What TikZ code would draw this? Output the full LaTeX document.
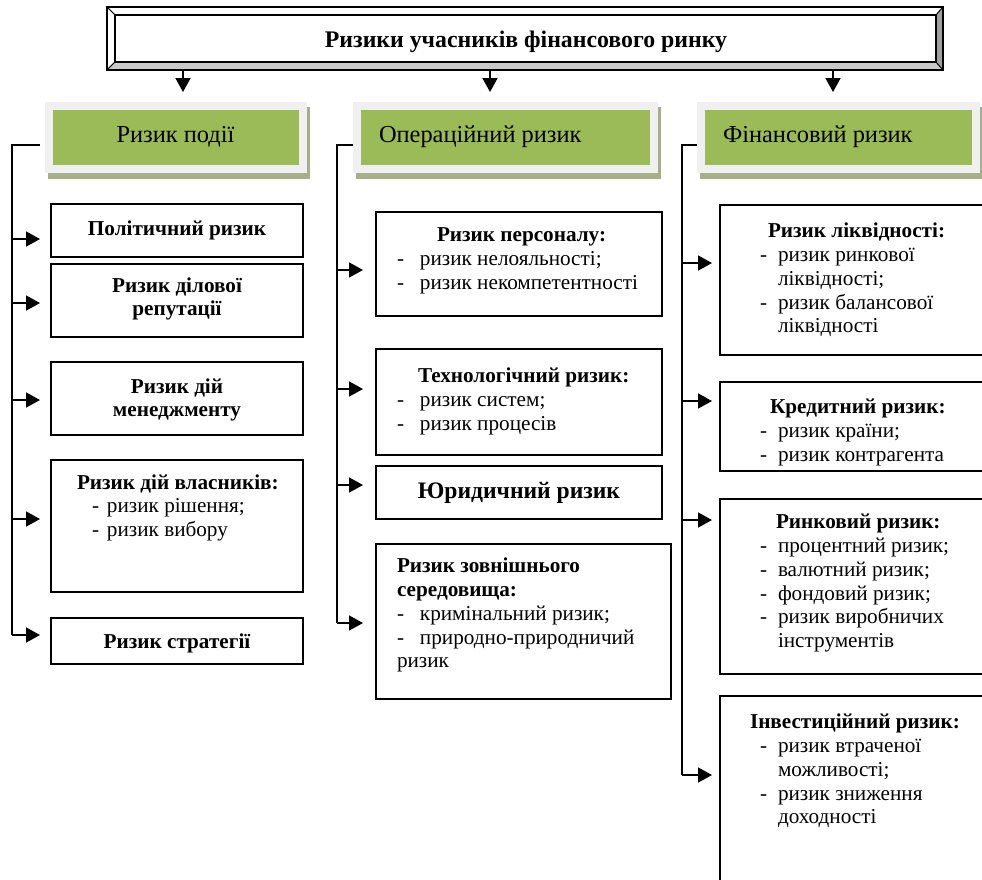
\documentclass[tikz,border=0pt]{standalone}
\usepackage{fontspec}
\setmainfont{Liberation Serif}
\usetikzlibrary{arrows.meta,backgrounds}
\definecolor{boxgreen}{RGB}{155,187,89}
\definecolor{framegray}{RGB}{240,240,240}
\definecolor{shadowgreen}{RGB}{166,174,140}
\definecolor{bevbot}{RGB}{200,200,200}
\definecolor{bevright}{RGB}{160,160,160}
\newcommand\bodyfont{\fontsize{21.2}{23.8}\selectfont}
\newcommand\greenfont{\fontsize{24.4}{28}\selectfont}
\newcommand\titlefont{\fontsize{23.8}{27}\selectfont\bfseries}
\newcommand\jurfont{\fontsize{23.6}{27}\selectfont\bfseries}
\newcommand\dsh[1]{\makebox[#1][l]{-}}
\tikzset{
  conn/.style={line width=1.7pt},
  arr/.style={line width=1.7pt,-{Triangle[length=14pt,width=15pt]}},
  box/.style={draw,line width=1.6pt,inner sep=0pt,outer sep=0pt,anchor=north west},
  gbox/.style={draw=framegray,fill=boxgreen,line width=8pt,inner sep=0pt,outer sep=0pt,minimum height=62.5pt},
  txt/.style={inner sep=0pt,outer sep=0pt,font=\bodyfont,align=left,anchor=north west},
  btxt/.style={inner sep=0pt,outer sep=0pt,font=\bodyfont\bfseries},
  gtxt/.style={inner sep=0pt,outer sep=0pt,font=\greenfont},
}
\begin{document}
\begin{tikzpicture}[x=1pt,y=1pt]
\useasboundingbox (0,0) rectangle (982,-879);
\clip (0,0) rectangle (982,-879);

% title
\node[draw,line width=1.2pt,inner sep=0pt,outer sep=0pt,minimum width=821pt,minimum height=47pt,anchor=north west] (title) at (115,-15) {};
\coordinate (onw) at ([shift={(-8,8)}]title.north west);
\coordinate (one) at ([shift={(7,8)}]title.north east);
\coordinate (ose) at ([shift={(7,-8)}]title.south east);
\coordinate (osw) at ([shift={(-8,-8)}]title.south west);
\filldraw[fill=white,line width=0.8pt] (onw) -- (one) -- (title.north east) -- (title.north west) -- cycle;
\filldraw[fill=white,line width=0.8pt] (onw) -- (title.north west) -- (title.south west) -- (osw) -- cycle;
\filldraw[fill=bevbot,line width=0.8pt] (osw) -- (title.south west) -- (title.south east) -- (ose) -- cycle;
\filldraw[fill=bevright,line width=0.8pt] (one) -- (ose) -- (title.south east) -- (title.north east) -- cycle;
\draw[line width=2pt] (onw) rectangle (ose);
\draw[line width=1.2pt] (title.north west) rectangle (title.south east);
\node[inner sep=0pt,font=\titlefont,anchor=base] (ttitle) at (526,-47) {Ризики учасників фінансового ринку};

% green headers
\node[gbox,minimum width=254pt] (g1) at (176,-137.25) {};
\node[gbox,minimum width=297.5pt] (g2) at (505.25,-137.25) {};
\node[gbox,minimum width=275pt] (g3) at (838.5,-137.25) {};
\begin{pgfonlayer}{background}
\fill[shadowgreen] ([shift={(-1,-10.5)}]g1.south west) rectangle ([shift={(7,-1)}]g1.north east);
\fill[shadowgreen] ([shift={(-1,-10.5)}]g2.south west) rectangle ([shift={(7,-1)}]g2.north east);
\fill[shadowgreen] ([shift={(-1,-10.5)}]g3.south west) rectangle ([shift={(7,-1)}]g3.north east);
\end{pgfonlayer}
\node[gtxt,anchor=base] (gt1) at (175.5,-142) {Ризик події};
\node[gtxt,anchor=base west] (gt2) at (379,-142) {Операційний ризик};
\node[gtxt,anchor=base west] (gt3) at (723,-142) {Фінансовий ризик};

% arrows from title
\coordinate (tA) at (183,-70);
\coordinate (tB) at (490,-70);
\coordinate (tC) at (833,-70);
\draw[arr,shorten >=14pt] (tA) -- (tA |- g1.north);
\draw[arr,shorten >=14pt] (tB) -- (tB |- g2.north);
\draw[arr,shorten >=14pt] (tC) -- (tC |- g3.north);

% column 1 boxes
\node[box,minimum width=252pt,minimum height=53pt] (bpol) at (51,-204) {};
\node[box,minimum width=252pt,minimum height=73pt] (bdil) at (51,-264) {};
\node[box,minimum width=252pt,minimum height=73pt] (bmen) at (51,-362) {};
\node[box,minimum width=252pt,minimum height=132pt] (bvl) at (51,-460) {};
\node[box,minimum width=252pt,minimum height=46pt] (bstr) at (51,-618) {};

\node[btxt,anchor=base] (tpol) at (177,-235) {Політичний ризик};
\node[btxt,anchor=north,align=center] (tdil) at (177,-275.4) {\strut Ризик ділової\\репутації};
\node[btxt,anchor=north,align=center] (tmen) at (177,-376.4) {\strut Ризик дій\\менеджменту};
\node[txt] (tvl) at (77,-472.4) {\strut\textbf{Ризик дій власників:}\\\hspace*{15pt}\dsh{15pt}ризик рішення;\\\hspace*{15pt}\dsh{15pt}ризик вибору};
\node[btxt,anchor=base] (tstr) at (177,-648) {Ризик стратегії};

% column 2 boxes
\node[box,minimum width=286pt,minimum height=104pt] (bpers) at (376,-212) {};
\node[box,minimum width=286pt,minimum height=106pt] (btech) at (376,-349) {};
\node[box,minimum width=286pt,minimum height=53pt] (bjur) at (376,-466) {};
\node[box,minimum width=295pt,minimum height=155pt] (bzovn) at (376,-544) {};

\node[txt] (tpers) at (397,-225) {\strut\hspace*{40pt}\textbf{Ризик персоналу:}\\\dsh{23pt}ризик нелояльності;\\\dsh{23pt}ризик некомпетентності};
\node[txt] (ttech) at (397,-366) {\strut\hspace*{21pt}\textbf{Технологічний ризик:}\\\dsh{23pt}ризик систем;\\\dsh{23pt}ризик процесів};
\node[inner sep=0pt,font=\jurfont,anchor=base] (tjur) at (519,-498) {Юридичний ризик};
\node[txt] (tzovn) at (397,-556) {\strut\textbf{Ризик зовнішнього}\\\textbf{середовища:}\\\dsh{23pt}кримінальний ризик;\\\dsh{23pt}природно-природничий\\ризик};

% column 3 boxes
\node[box,minimum width=300pt,minimum height=150pt] (bliq) at (720,-205) {};
\node[box,minimum width=300pt,minimum height=89pt] (bcred) at (720,-382) {};
\node[box,minimum width=300pt,minimum height=175pt] (bmkt) at (720,-499) {};
\node[box,minimum width=300pt,minimum height=250pt] (binv) at (720,-696) {};

\node[txt] (tliq) at (760,-221) {\strut\hspace*{8pt}\textbf{Ризик ліквідності:}\\\dsh{18pt}ризик ринкової\\\hspace*{18pt}ліквідності;\\\dsh{18pt}ризик балансової\\\hspace*{18pt}ліквідності};
\node[txt] (tcred) at (760,-397) {\strut\hspace*{10pt}\textbf{Кредитний ризик:}\\\dsh{18pt}ризик країни;\\\dsh{18pt}ризик контрагента};
\node[txt] (tmkt) at (760,-512) {\strut\hspace*{16pt}\textbf{Ринковий ризик:}\\\dsh{18pt}процентний ризик;\\\dsh{18pt}валютний ризик;\\\dsh{18pt}фондовий ризик;\\\dsh{18pt}ризик виробничих\\\hspace*{18pt}інструментів};
\node[txt] (tinv) at (750,-712) {\strut\textbf{Інвестиційний ризик:}\\\hspace*{10pt}\dsh{18pt}ризик втраченої\\\hspace*{28pt}можливості;\\\hspace*{10pt}\dsh{18pt}ризик зниження\\\hspace*{28pt}доходності};

% trunks
\coordinate (tr1) at (12,-635);
\coordinate (tr2) at (337,-623);
\coordinate (tr3) at (682,-775);
\draw[conn] ([shift={(-9,-7.75)}]g1.west) -| (tr1);
\draw[conn] ([shift={(-4,-7.75)}]g2.west) -| (tr2);
\draw[conn] ([shift={(-4,-7.75)}]g3.west) -| (tr3);

% branch arrows col 1
\draw[arr] ([yshift=-8.5]bpol.west -| tr1) -- ([shift={(-11,-8.5)}]bpol.west);
\draw[arr] ([yshift=-2.5]bdil.west -| tr1) -- ([shift={(-11,-2.5)}]bdil.west);
\draw[arr] ([yshift=-1.5]bmen.west -| tr1) -- ([shift={(-11,-1.5)}]bmen.west);
\draw[arr] ([yshift=7]bvl.west -| tr1) -- ([shift={(-11,7)}]bvl.west);
\draw[arr] ([yshift=6]bstr.west -| tr1) -- ([shift={(-11,6)}]bstr.west);
% col 2
\draw[arr] ([yshift=-6]bpers.west -| tr2) -- ([shift={(-13,-6)}]bpers.west);
\draw[arr] ([yshift=13]btech.west -| tr2) -- ([shift={(-13,13)}]btech.west);
\draw[arr] ([yshift=7.5]bjur.west -| tr2) -- ([shift={(-13,7.5)}]bjur.west);
\draw[arr] ([yshift=-1.5]bzovn.west -| tr2) -- ([shift={(-13,-1.5)}]bzovn.west);
% col 3
\draw[arr] ([yshift=17]bliq.west -| tr3) -- ([shift={(-8,17)}]bliq.west);
\draw[arr] ([yshift=25.5]bcred.west -| tr3) -- ([shift={(-8,25.5)}]bcred.west);
\draw[arr] ([yshift=66.5]bmkt.west -| tr3) -- ([shift={(-8,66.5)}]bmkt.west);
\draw[arr] ([yshift=46]binv.west -| tr3) -- ([shift={(-8,46)}]binv.west);
\end{tikzpicture}
\end{document}
